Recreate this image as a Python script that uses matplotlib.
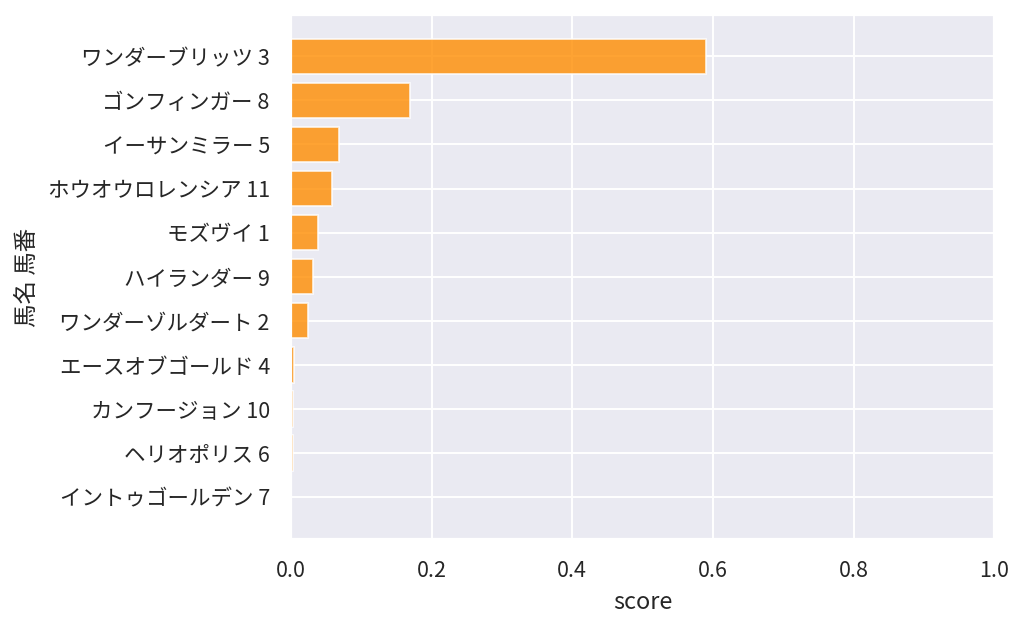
import matplotlib
matplotlib.use("Agg")
import matplotlib.pyplot as plt
import seaborn as sns

# =====================================================
# DATA
# =====================================================
horse_names = [
    "ワンダーブリッツ 3",
    "ゴンフィンガー 8",
    "イーサンミラー 5",
    "ホウオウロレンシア 11",
    "モズヴイ 1",
    "ハイランダー 9",
    "ワンダーゾルダート 2",
    "エースオブゴールド 4",
    "カンフージョン 10",
    "ヘリオポリス 6",
    "イントゥゴールデン 7",
]
scores = [0.590, 0.169, 0.068, 0.058, 0.039, 0.032, 0.025, 0.004, 0.003, 0.003, 0.0005]

# =====================================================
# STYLE
# =====================================================
sns.set_theme(style="darkgrid", font_scale=1.1)
plt.rcParams["font.family"] = ["Noto Sans CJK JP", "DejaVu Sans"]
plt.rcParams["xtick.major.pad"] += 2.3
plt.rcParams["ytick.major.pad"] += 2.3
plt.rcParams["axes.labelpad"] += 1.0
plt.rcParams["grid.linewidth"] = 1.1

# =====================================================
# PLOT
# =====================================================
fig, ax = plt.subplots(figsize=(8, 4.9), dpi=128)
fig.subplots_adjust(left=0.284, right=0.971, top=0.976, bottom=0.141)

ax.barh(horse_names, scores, color="darkorange", alpha=0.8)
ax.invert_yaxis()
ax.set_xlim(0, 1.0)
ax.set_xlabel("score")
ax.set_ylabel("馬名 馬番")

fig.savefig("out.png", dpi=128)
